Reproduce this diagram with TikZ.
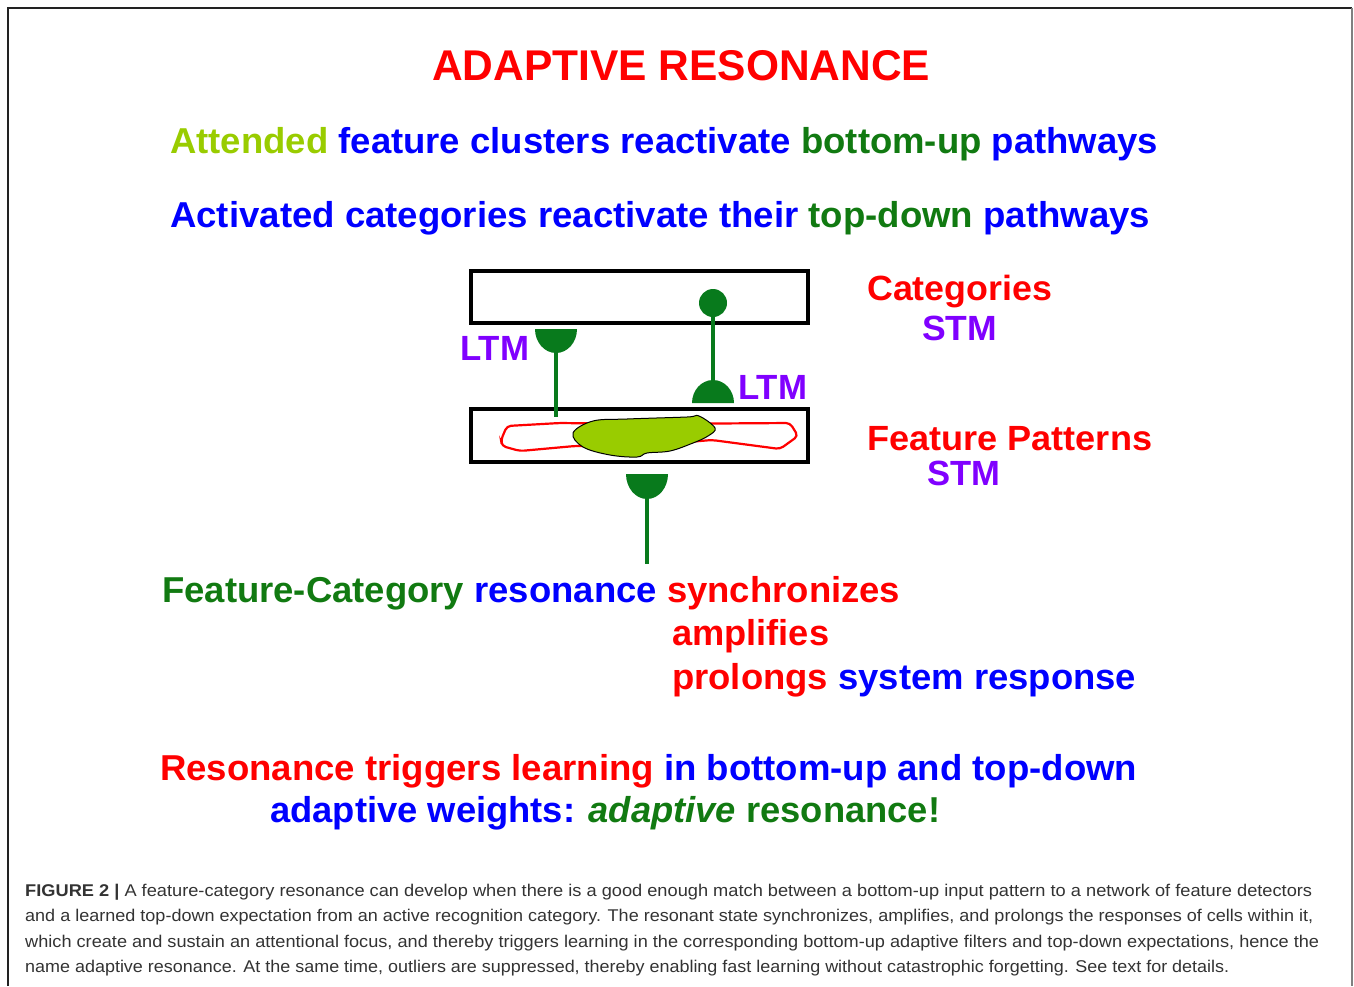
\documentclass[tikz,border=0pt]{standalone}
\usepackage{fontspec}
\setmainfont{Liberation Sans}
\usepackage{graphicx}
\usepackage{tikz}
\definecolor{hot}{HTML}{FF0000}
\definecolor{deep}{HTML}{0000FF}
\definecolor{leaf}{HTML}{117A11}
\definecolor{bud}{HTML}{99CC00}
\definecolor{stm}{HTML}{8000FF}
\definecolor{syn}{HTML}{087A1C}
\definecolor{rule}{HTML}{222222}
\definecolor{capt}{HTML}{333333}
\newcommand{\fitw}[2]{\resizebox{#1}{\height}{#2}}
\tikzset{
  ttl/.style={anchor=base west, inner sep=0pt, text=hot, font=\bfseries\fontsize{43}{45}\selectfont},
  big/.style={anchor=base west, inner sep=0pt, font=\bfseries\fontsize{36}{38}\selectfont},
  lab/.style={anchor=base west, inner sep=0pt, font=\bfseries\fontsize{35}{37}\selectfont},
  note/.style={anchor=base west, inner sep=0pt, text=capt, font=\fontsize{17}{20}\selectfont},
  layer/.style={draw=black, line width=4pt, minimum width=337pt, minimum height=52pt, inner sep=0pt},
  stem/.style={draw=syn, line width=4.5pt},
  dot/.style={circle, fill=syn, minimum size=28pt, inner sep=0pt},
}

\begin{document}
\begin{tikzpicture}[x=1pt,y=-1pt]
  \useasboundingbox (0,0) rectangle (1354,986);
  % frame of the figure
  \draw[rule, line width=1.5pt] (8,986) -- (8,8) -- (1352,8);
  \draw[gray, line width=1.5pt] (1352,8) -- (1352,986);

  % headings
  \node[ttl] (title) at (432,80) {\fitw{498pt}{ADAPTIVE RESONANCE}};
  \node[big] (bu) at (170,153) {\fitw{988pt}{\textcolor{bud}{Attended} \textcolor{deep}{feature clusters reactivate} \textcolor{leaf}{bottom-up} \textcolor{deep}{pathways}}};
  \node[big] (td) at (170,227) {\fitw{980pt}{\textcolor{deep}{Activated categories reactivate their} \textcolor{leaf}{top-down} \textcolor{deep}{pathways}}};

  % the two layers
  \node[layer] (cat) at (639.5,297) {};
  \node[layer, minimum height=53pt] (feat) at (639.5,435.5) {};

  % feature pattern and attended cluster
  \draw[hot, line width=2.2pt, rounded corners=4pt] (507,426) -- (560,423) -- (640,424) -- (790,423)
    -- (798,436) -- (780,449) -- (712,440) -- (640,446) -- (575,446) -- (520,451) -- (502,446) -- (501,440) -- cycle;
  \draw[black, line width=1pt, fill=bud] plot[smooth cycle, tension=0.6] coordinates {
    (573,433) (593,421) (627,419) (687,417) (699,416) (715,428) (708,436) (693,443)
    (670,451) (647,453) (637,457) (610,455) (583,447)};

  % bottom-up pathway
  \coordinate (upsyn) at (556,329);
  \coordinate (uptip) at (556,417);
  \draw[stem] (upsyn) -- (uptip);
  \fill[syn] (upsyn) ++(-21,0) arc[start angle=180, end angle=0, x radius=21, y radius=24] -- cycle;

  % top-down pathway
  \node[dot] (dnsrc) at (713,303) {};
  \coordinate (dnsyn) at (713,403);
  \draw[stem] (dnsrc) -- (dnsyn);
  \fill[syn] (dnsyn) ++(-21,0) arc[start angle=180, end angle=360, x radius=21, y radius=23] -- cycle;

  % input pathway
  \coordinate (insyn) at (647,474);
  \coordinate (intail) at (647,564);
  \draw[stem] (insyn) -- (intail);
  \fill[syn] (insyn) ++(-21,0) arc[start angle=180, end angle=0, x radius=21, y radius=25] -- cycle;

  % labels
  \node[lab, text=stm] (ltmup) at (460,360) {\fitw{69pt}{LTM}};
  \node[lab, text=stm] (ltmdn) at (738,399) {\fitw{69pt}{LTM}};
  \node[lab, text=hot] (catlab) at (867,300) {\fitw{185pt}{Categories}};
  \node[lab, text=stm] (catstm) at (922,340) {\fitw{75pt}{STM}};
  \node[lab, text=hot] (featlab) at (867,450) {\fitw{285pt}{Feature Patterns}};
  \node[lab, text=stm] (featstm) at (927,485) {\fitw{73pt}{STM}};

  % resonance text
  \node[big] (res) at (162,602) {\fitw{738pt}{\textcolor{leaf}{Feature-Category} \textcolor{deep}{resonance} \textcolor{hot}{synchronizes}}};
  \node[big, text=hot] (amp) at (672,645) {\fitw{157pt}{amplifies}};
  \node[big] (pro) at (672,689) {\fitw{464pt}{\textcolor{hot}{prolongs} \textcolor{deep}{system response}}};
  \node[big] (learn) at (160,780) {\fitw{977pt}{\textcolor{hot}{Resonance triggers learning} \textcolor{deep}{in bottom-up and top-down}}};
  \node[big] (art) at (270,822) {\fitw{670pt}{\textcolor{deep}{adaptive weights:} \textcolor{leaf}{\itshape adaptive} \textcolor{leaf}{resonance!}}};

  % caption
  \node[note] (c1) at (25,896) {\fitw{1287pt}{\textbf{FIGURE 2 |} A feature-category resonance can develop when there is a good enough match between a bottom-up input pattern to a network of feature detectors}};
  \node[note] (c2) at (25,921) {\fitw{1288pt}{and a learned top-down expectation from an active recognition category. The resonant state synchronizes, amplifies, and prolongs the responses of cells within it,}};
  \node[note] (c3) at (25,947) {\fitw{1294pt}{which create and sustain an attentional focus, and thereby triggers learning in the corresponding bottom-up adaptive filters and top-down expectations, hence the}};
  \node[note] (c4) at (25,972) {\fitw{1204pt}{name adaptive resonance. At the same time, outliers are suppressed, thereby enabling fast learning without catastrophic forgetting. See text for details.}};
\end{tikzpicture}
\end{document}
